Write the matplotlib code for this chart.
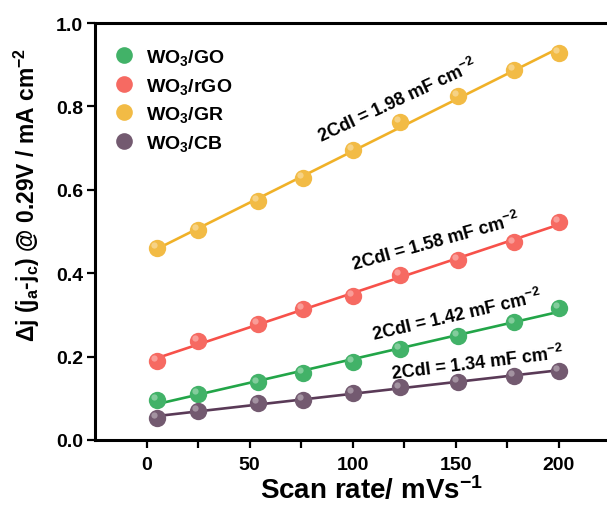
import numpy as np
import matplotlib
matplotlib.use("Agg")
import matplotlib.pyplot as plt
from matplotlib.lines import Line2D
from matplotlib.transforms import offset_copy

plt.rcParams["font.family"] = ["Liberation Sans", "DejaVu Sans"]
plt.rcParams["mathtext.default"] = "regular"

# scan rates (mV/s)
scan_rate = [5, 25, 54, 76, 100, 123, 151, 178, 200]

dj_go = [0.096, 0.110, 0.138, 0.161, 0.188, 0.218, 0.249, 0.282, 0.317]
dj_rgo = [0.190, 0.238, 0.278, 0.314, 0.345, 0.396, 0.432, 0.474, 0.524]
dj_gr = [0.460, 0.504, 0.574, 0.628, 0.696, 0.762, 0.826, 0.887, 0.928]
dj_cb = [0.053, 0.069, 0.089, 0.096, 0.113, 0.126, 0.140, 0.154, 0.165]

names = ["WO$_3$/GO", "WO$_3$/rGO", "WO$_3$/GR", "WO$_3$/CB"]
cdl_labels = ["2Cdl = 1.42 mF cm$^{-2}$", "2Cdl = 1.58 mF cm$^{-2}$",
              "2Cdl = 1.98 mF cm$^{-2}$", "2Cdl = 1.34 mF cm$^{-2}$"]

point_colors = ["#42b268", "#f66a62", "#f2bb45", "#735a70"]
line_colors = ["#22a548", "#f7514a", "#f0b128", "#5a3a57"]

# label placement (x, y, angle) for each 2Cdl note
label_pos = [(150.5, 0.300, 13), (140.3, 0.477, 15.5), (121.4, 0.815, 25), (160.2, 0.187, 7)]

fig = plt.figure(figsize=(6.07, 5.10), dpi=100)
ax = fig.add_axes([0.1565, 0.1353, 0.8493, 0.8176])

series = [dj_go, dj_rgo, dj_gr, dj_cb]
x = np.array(scan_rate)
for i, y in enumerate(series):
    k, b = np.polyfit(x, y, 1)
    ax.plot([x[0], x[-1]], [k * x[0] + b, k * x[-1] + b], color=line_colors[i], lw=1.9, zorder=2)
    ax.plot(x, y, "o", color=point_colors[i], ms=12.5, mec="none", zorder=3)
    # small highlight so the balls look a bit round
    hl = offset_copy(ax.transData, fig=fig, x=-2.0, y=2.0, units="points")
    ax.plot(x, y, "o", color="white", alpha=0.35, ms=4.5, mec="none", transform=hl, zorder=4)
    tx, ty, ang = label_pos[i]
    ax.text(tx, ty, cdl_labels[i], rotation=ang, fontsize=13, fontweight="bold",
            ha="center", va="center", rotation_mode="anchor")

handles = [Line2D([], [], ls="none", marker="o", ms=12, color=c, mec="none") for c in point_colors]
ax.legend(handles, names, loc="upper left", bbox_to_anchor=(0.0, 0.985), frameon=False,
          prop={"size": 14, "weight": "bold"}, handletextpad=0.5, labelspacing=0.45,
          handlelength=1.2)

ax.set_xlim(-25, 225)
ax.set_ylim(0, 1.0)
ax.set_xticks([0, 50, 100, 150, 200])
ax.set_xticks([25, 75, 125, 175], minor=True)
ax.set_yticks([0.0, 0.2, 0.4, 0.6, 0.8, 1.0])
ax.yaxis.set_major_formatter(plt.FormatStrFormatter("%.1f"))

for s in ["left", "bottom", "top"]:
    ax.spines[s].set_linewidth(2.2)
ax.spines["right"].set_visible(False)
ax.tick_params(which="both", direction="out", length=5.5, width=1.6, labelsize=14)
ax.tick_params(axis="x", pad=6)
ax.tick_params(axis="y", pad=3)
for lab in ax.get_xticklabels() + ax.get_yticklabels():
    lab.set_fontweight("bold")

ax.set_xlabel("Scan rate/ mVs$^{-1}$", fontsize=20, fontweight="bold")
ax.xaxis.set_label_coords(0.537, -0.085)
ax.set_ylabel("Δj (j$_a$-j$_c$) @ 0.29V / mA cm$^{-2}$", fontsize=16.5, fontweight="bold")
ax.yaxis.set_label_coords(-0.103, 0.59)

fig.savefig("out.png", dpi=100)
